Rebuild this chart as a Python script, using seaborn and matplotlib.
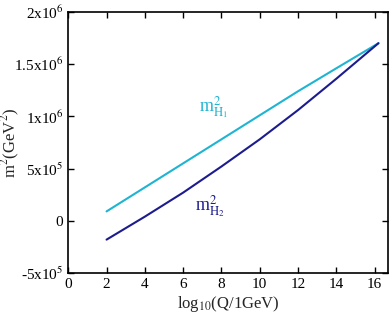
import numpy as np
import pandas as pd
import seaborn as sns
from matplotlib import pyplot as plt

# running Higgs mass parameters vs scale
logQ = [2, 4, 6, 8, 10, 12, 14, 16.2]
mH1 = [0.09e6, 0.32e6, 0.55e6, 0.78e6, 1.01e6, 1.24e6, 1.46e6, 1.70e6]
mH2 = [-0.18e6, 0.04e6, 0.27e6, 0.52e6, 0.78e6, 1.06e6, 1.36e6, 1.70e6]
yticks = [-5e5, 0, 5e5, 1e6, 1.5e6, 2e6]
ylabels = [r'-5x10$^5$', '0', r'5x10$^5$', r'1x10$^6$', r'1.5x10$^6$', r'2x10$^6$']

df = pd.DataFrame({'logQ': logQ * 2, 'm2': mH1 + mH2,
                   'param': ['H1'] * len(logQ) + ['H2'] * len(logQ)})

sns.set_style('ticks', {'axes.edgecolor': 'black', 'xtick.color': 'black',
                        'ytick.color': 'black', 'text.color': 'black'})
plt.rcParams['font.family'] = ['Liberation Serif', 'DejaVu Serif']
plt.rcParams['mathtext.fontset'] = 'stix'

fig = plt.figure(figsize=(3.9, 3.29), dpi=100)
ax = fig.add_axes([0.175, 0.17, 0.82, 0.794])
sns.lineplot(data=df, x='logQ', y='m2', hue='param',
             palette={'H1': '#1eb4d2', 'H2': '#1c1c8e'}, linewidth=1.5,
             legend=False, ax=ax)

ax.text(7.6, 1.08e6, r'm$^2_{\mathrm{H_1}}$', color='#1eb4d2', fontsize=13, ha='center', va='center')
ax.text(7.4, 0.13e6, r'm$^2_{\mathrm{H_2}}$', color='#1c1c8e', fontsize=13, ha='center', va='center')

ax.set_xlim(0, 16.7)
ax.set_ylim(-5e5, 2e6)
ax.set_xticks(range(0, 17, 2))
ax.set_yticks(yticks)
ax.set_yticklabels(ylabels)
ax.tick_params(direction='in', top=True, right=True, labelsize=11, length=4, width=1,
               labelcolor='black')
for s in ax.spines.values():
    s.set_linewidth(1.2)
ax.set_xlabel(r'log$_{10}$(Q/1GeV)', fontsize=12, labelpad=2)
ax.set_ylabel(r'm$^2$(GeV$^2$)', fontsize=12)
ax.yaxis.set_label_coords(-0.145, 0.5)

fig.savefig('out.png', dpi=100)
